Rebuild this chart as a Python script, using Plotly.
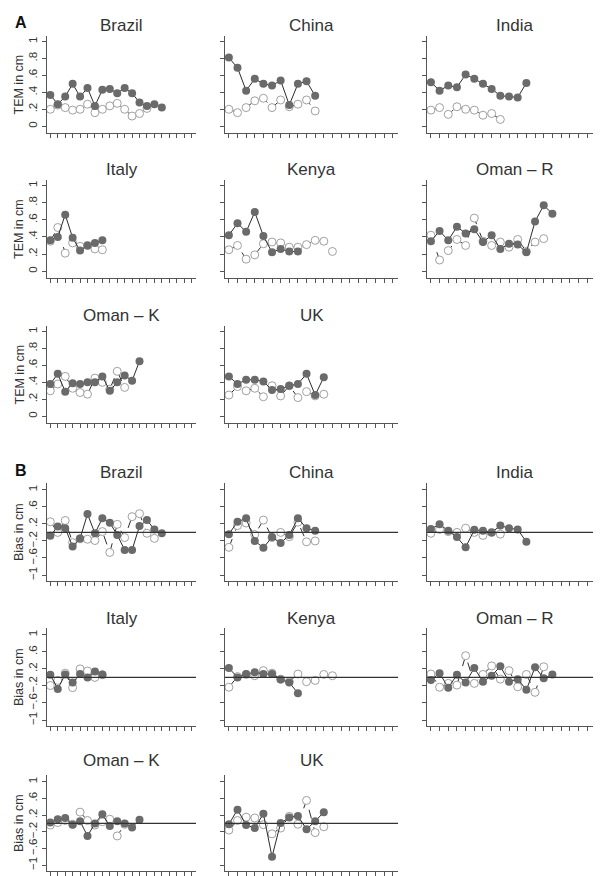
import plotly.graph_objects as go

W, H = 601, 876

countries = ["Brazil", "China", "India", "Italy", "Kenya", "Oman \u2013 R", "Oman \u2013 K", "UK"]

# Panel A: TEM in cm (filled = series 1, open = series 2)
tem_filled = {
    "Brazil": [0.37, 0.26, 0.35, 0.50, 0.35, 0.45, 0.24, 0.43, 0.44, 0.39, 0.45, 0.39, 0.28, 0.24, 0.26, 0.22],
    "China": [0.81, 0.69, 0.42, 0.56, 0.50, 0.48, 0.54, 0.25, 0.50, 0.53, 0.36],
    "India": [0.52, 0.42, 0.48, 0.46, 0.61, 0.56, 0.50, 0.44, 0.36, 0.35, 0.34, 0.51],
    "Italy": [0.36, 0.40, 0.66, 0.39, 0.24, 0.30, 0.33, 0.36],
    "Kenya": [0.42, 0.56, 0.46, 0.69, 0.41, 0.22, 0.26, 0.23, 0.23],
    "Oman \u2013 R": [0.35, 0.47, 0.36, 0.52, 0.44, 0.49, 0.34, 0.42, 0.26, 0.32, 0.31, 0.22, 0.58, 0.77, 0.67],
    "Oman \u2013 K": [0.38, 0.50, 0.29, 0.39, 0.38, 0.40, 0.40, 0.47, 0.30, 0.40, 0.48, 0.42, 0.65],
    "UK": [0.47, 0.38, 0.43, 0.43, 0.41, 0.31, 0.32, 0.36, 0.38, 0.50, 0.25, 0.46],
}
tem_open = {
    "Brazil": [0.20, 0.25, 0.22, 0.19, 0.20, 0.26, 0.16, 0.20, 0.24, 0.27, 0.20, 0.12, 0.15, 0.21],
    "China": [0.20, 0.16, 0.22, 0.30, 0.33, 0.22, 0.31, 0.23, 0.26, 0.31, 0.18],
    "India": [0.19, 0.22, 0.14, 0.23, 0.20, 0.19, 0.13, 0.15, 0.08],
    "Italy": [0.35, 0.51, 0.21, 0.33, 0.29, 0.30, 0.26, 0.25],
    "Kenya": [0.25, 0.30, 0.14, 0.19, 0.32, 0.34, 0.33, 0.28, 0.28, 0.31, 0.36, 0.35, 0.23],
    "Oman \u2013 R": [0.42, 0.13, 0.24, 0.37, 0.30, 0.62, 0.35, 0.30, 0.34, 0.28, 0.37, 0.23, 0.34, 0.38],
    "Oman \u2013 K": [0.30, 0.38, 0.47, 0.33, 0.28, 0.26, 0.45, 0.40, 0.32, 0.53, 0.34],
    "UK": [0.25, 0.35, 0.30, 0.33, 0.23, 0.36, 0.24, 0.36, 0.22, 0.29, 0.24, 0.26],
}

# Panel B: Bias in cm
bias_filled = {
    "Brazil": [-0.08, 0.14, 0.10, -0.33, -0.14, 0.43, -0.02, 0.33, 0.23, -0.06, -0.41, -0.41, 0.15, 0.29, 0.07, -0.02],
    "China": [-0.04, 0.25, 0.33, -0.20, -0.36, -0.11, -0.25, -0.06, 0.33, 0.10, 0.04],
    "India": [0.08, 0.19, 0.04, -0.11, -0.35, 0.06, 0.04, 0.00, 0.16, 0.10, 0.07, -0.22],
    "Italy": [0.06, -0.27, 0.07, -0.12, 0.08, 0.00, 0.14, 0.07],
    "Kenya": [0.22, 0.00, 0.08, 0.12, 0.08, 0.08, -0.05, -0.12, -0.37],
    "Oman \u2013 R": [-0.06, 0.10, -0.24, 0.06, -0.12, 0.22, -0.10, 0.04, 0.26, -0.10, -0.04, -0.29, 0.24, -0.02, 0.07],
    "Oman \u2013 K": [0.02, 0.10, 0.13, -0.03, 0.05, -0.30, 0.00, 0.22, -0.06, 0.05, 0.00, -0.10, 0.09],
    "UK": [-0.02, 0.33, -0.04, -0.11, 0.23, -0.80, 0.01, 0.14, 0.18, -0.14, 0.05, 0.27],
}
bias_open = {
    "Brazil": [0.25, 0.00, 0.28, -0.24, -0.15, -0.16, -0.19, 0.02, -0.47, 0.19, -0.12, 0.37, 0.44, -0.02, -0.14],
    "China": [-0.35, 0.16, 0.22, -0.05, 0.29, -0.12, 0.00, -0.10, 0.24, -0.22, -0.20],
    "India": [-0.02, 0.07, 0.02, 0.00, 0.10, 0.00, -0.07, 0.00, -0.04],
    "Italy": [-0.19, -0.07, 0.10, -0.24, 0.20, 0.15, 0.00, 0.06],
    "Kenya": [-0.23, 0.02, 0.07, 0.04, 0.16, 0.10, -0.04, -0.10, 0.08, -0.10, -0.07, 0.07, 0.04],
    "Oman \u2013 R": [0.08, -0.23, -0.14, -0.18, 0.51, -0.14, 0.07, 0.27, -0.04, 0.16, -0.22, 0.07, -0.35, 0.25],
    "Oman \u2013 K": [-0.04, 0.02, 0.07, -0.02, 0.27, 0.07, -0.04, 0.04, 0.10, -0.30, -0.02],
    "UK": [-0.16, 0.07, 0.15, 0.13, -0.03, -0.25, -0.11, 0.17, -0.02, 0.55, -0.22, -0.08],
}

n_ticks = 20
tem_ticks = [0, 0.2, 0.4, 0.6, 0.8, 1]
tem_labels = ["0", ".2", ".4", ".6", ".8", "1"]
bias_ticks = [-1, -0.6, -0.2, 0.2, 0.6, 1]
bias_labels = ["\u22121", "\u2212.6", "\u2212.2", ".2", ".6", "1"]

# pixel layout of the plot regions
cols_px = [(39, 188), (217, 390), (419, 593)]
rows_px = [(28, 125), (172, 270), (318, 415), (475, 573), (620, 718), (767, 863)]
title_px = [17, 162, 307, 464, 610, 752]

FILL = "#6a6a6a"
LINE = "#2b2b2b"
OPEN_EDGE = "#a0a0a0"
AXIS = "#555555"
FONT = "Liberation Sans"

fig = go.Figure()
layout = dict(
    width=W, height=H, margin=dict(l=0, r=0, t=0, b=0),
    paper_bgcolor="white", plot_bgcolor="white", showlegend=False,
    font=dict(family=FONT, color="#222"),
)
annotations = []
shapes = []

k = 0
for panel in range(2):
    filled = tem_filled if panel == 0 else bias_filled
    opened = tem_open if panel == 0 else bias_open
    for i, c in enumerate(countries):
        k += 1
        r = panel * 3 + i // 3
        col = i % 3
        xs = "x" if k == 1 else f"x{k}"
        ys = "y" if k == 1 else f"y{k}"
        x0, x1 = cols_px[col]
        y0, y1 = rows_px[r]
        xo = list(range(1, len(opened[c]) + 1))
        xf = list(range(1, len(filled[c]) + 1))
        fig.add_trace(go.Scatter(
            x=xo, y=opened[c], xaxis=xs, yaxis=ys, mode="lines+markers",
            line=dict(color=LINE, width=1, dash="dash"),
            marker=dict(symbol="circle", size=8, color="white",
                        line=dict(color=OPEN_EDGE, width=1)),
        ))
        fig.add_trace(go.Scatter(
            x=xf, y=filled[c], xaxis=xs, yaxis=ys, mode="lines+markers",
            line=dict(color=LINE, width=1),
            marker=dict(symbol="circle", size=8, color=FILL),
        ))
        xkey = "xaxis" if k == 1 else f"xaxis{k}"
        ykey = "yaxis" if k == 1 else f"yaxis{k}"
        layout[xkey] = dict(
            domain=[x0 / W, x1 / W], anchor=ys, range=[0.55, 20.6],
            tickmode="array", tickvals=list(range(1, n_ticks + 1)),
            showticklabels=False, ticks="outside", ticklen=4, tickcolor=AXIS,
            showline=True, linecolor=AXIS, linewidth=1,
            showgrid=False, zeroline=False,
        )
        layout[ykey] = dict(
            domain=[1 - y1 / H, 1 - y0 / H], anchor=xs,
            range=[-0.08, 1.065] if panel == 0 else [-1.14, 1.16],
            tickmode="array",
            tickvals=tem_ticks if panel == 0 else bias_ticks,
            ticktext=tem_labels if panel == 0 else bias_labels,
            showticklabels=(col == 0), tickangle=-90,
            tickfont=dict(size=11.5, color="#333"),
            ticks="outside", ticklen=4, tickcolor=AXIS,
            showline=True, linecolor=AXIS, linewidth=1,
            showgrid=False, zeroline=False,
        )
        annotations.append(dict(
            text=c, x=(x0 + x1) / 2 / W, y=1 - title_px[r] / H,
            xref="paper", yref="paper", xanchor="center", yanchor="middle",
            showarrow=False, font=dict(size=17, color="#333", weight="normal"),
        ))
        if col == 0:
            annotations.append(dict(
                text="TEM in cm" if panel == 0 else "Bias in cm",
                x=11 / W, y=1 - (y0 + y1) / 2 / H, xref="paper", yref="paper",
                xanchor="center", yanchor="middle", textangle=-90,
                showarrow=False, font=dict(size=12.5, color="#333"),
            ))
        if panel == 1:
            shapes.append(dict(
                type="line", xref=f"{xs} domain", yref=ys, x0=0, x1=1, y0=0, y1=0,
                line=dict(color="#333", width=1.2),
            ))

for label, ypx in (("A", 15), ("B", 462)):
    annotations.append(dict(
        text=f"<b>{label}</b>", x=13 / W, y=1 - ypx / H, xref="paper", yref="paper",
        xanchor="center", yanchor="middle", showarrow=False,
        font=dict(size=16, color="#111"),
    ))

layout["annotations"] = annotations
layout["shapes"] = shapes
fig.update_layout(**layout)
fig.write_html("out.html")
